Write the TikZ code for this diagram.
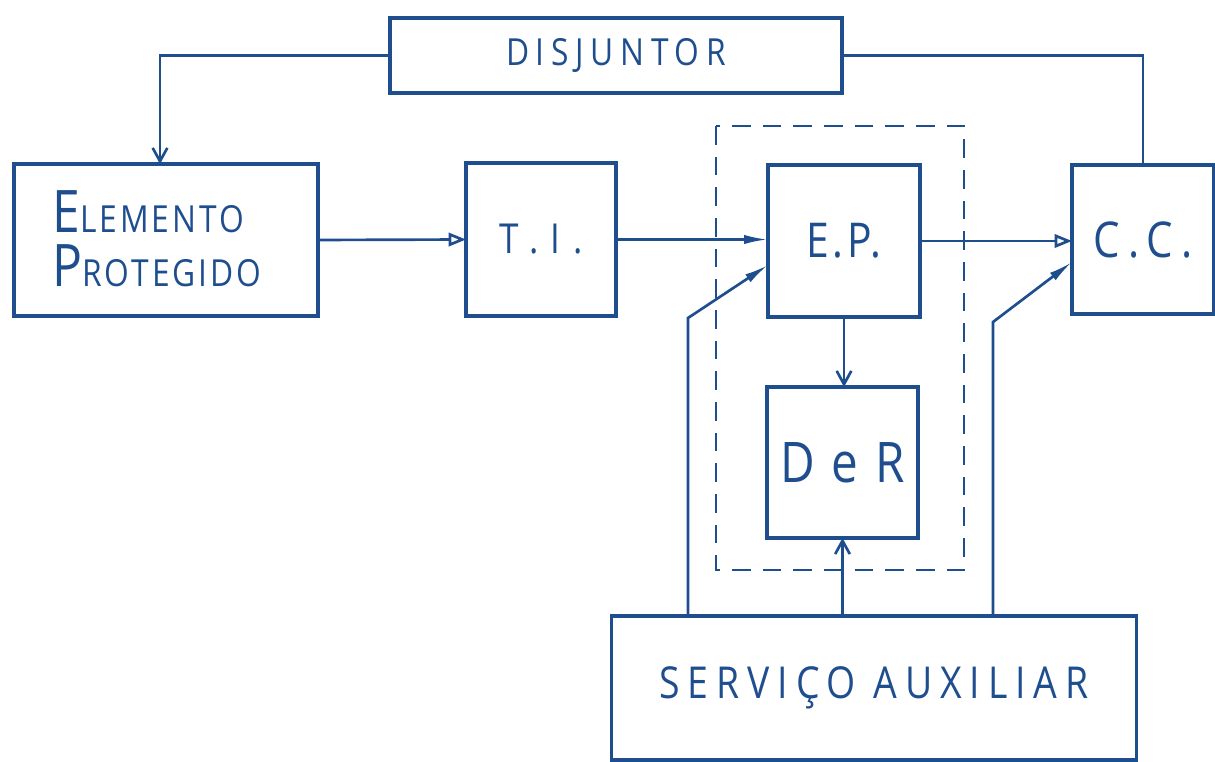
\documentclass[tikz,border=0pt]{standalone}
\usepackage{fontspec}
\usetikzlibrary{arrows.meta}
\newfontfamily\hand[LetterSpace=8,FakeStretch=0.85]{Open Sans}
\newfontfamily\handwide[LetterSpace=18,FakeStretch=0.85]{Open Sans}
\newfontfamily\handwider[LetterSpace=30,FakeStretch=0.85]{Open Sans}
\definecolor{ink}{HTML}{1F4E8F}
\tikzset{
  box/.style={draw=ink, line width=2.4pt, inner sep=0pt, outer sep=0pt, text=ink, font=\hand, align=left},
  conn/.style={draw=ink, line width=2pt},
  openarrow/.style={conn, -{Triangle[open, length=13pt, width=10pt, line width=2pt]}},
  fillarrow/.style={conn, -{Latex[length=18pt, width=7pt]}},
  veearrow/.style={conn, -{Straight Barb[length=10pt, width=11pt, line width=2pt]}},
  dashbox/.style={draw=ink, line width=2.2pt, dash pattern=on 14pt off 9pt}
}
\begin{document}
\begin{tikzpicture}[x=0.75pt,y=-0.75pt]
\useasboundingbox (0,0) rectangle (1215,762);
% boxes
\node[box, minimum width=339pt, minimum height=56.25pt, font=\handwide\fontsize{28}{28}\selectfont] (disj) at (616,55.5) {DISJUNTOR};
\node[box, minimum width=228pt, minimum height=114pt] (elem) at (166,240) {};
\node[text=ink, font=\hand, anchor=base west, inner sep=0pt] (elemtxt1) at (52,233)
  {{\fontsize{44}{44}\selectfont E}{\fontsize{28}{28}\selectfont LEMENTO}};
\node[text=ink, font=\hand, anchor=base west, inner sep=0pt] (elemtxt2) at (52,287)
  {{\fontsize{44}{44}\selectfont P}{\fontsize{28}{28}\selectfont ROTEGIDO}};
\node[box, minimum width=112.5pt, minimum height=114.75pt, font=\handwider\fontsize{31}{31}\selectfont] (ti) at (541,239.5) {T.I.};
\node[box, minimum width=114pt, minimum height=114pt, font=\hand\fontsize{36}{36}\selectfont] (ep) at (844,241) {E.P.};
\node[box, minimum width=113.25pt, minimum height=113.25pt, font=\hand\fontsize{42}{42}\selectfont] (der) at (842.5,462.5) {D e R};
\node[box, minimum width=106.5pt, minimum height=111.75pt, font=\handwide\fontsize{37}{37}\selectfont] (cc) at (1143,239.5) {C.C.};
\node[box, minimum width=393.75pt, minimum height=108pt, font=\handwide\fontsize{33}{33}\selectfont] (serv) at (874,688) {SERVIÇO AUXILIAR};
% dashed enclosure
\draw[dashbox] (716,126) rectangle (964,570);
% connectors
\draw[veearrow] (disj.west) -| ([xshift=-4.5pt]elem.north);
\draw[conn] (disj.east) -| (cc.north);
\draw[openarrow] (elem.east) -- (ti.west);
\draw[fillarrow] (ti.east) -- (ti.east -| ep.west);
\draw[openarrow] (ep.east) -- (ep.east -| cc.west);
\draw[veearrow] (ep.south) -- (ep.south |- der.north);
\draw[veearrow] (serv.north -| der.south) -- (der.south);
\coordinate (k1) at (688,318);
\coordinate (k2) at (993,322);
\draw[fillarrow] (serv.north -| k1) -- (k1) -- ([yshift=-18pt]ep.west);
\draw[fillarrow] (serv.north -| k2) -- (k2) -- ([yshift=-16.9pt]cc.west);
\end{tikzpicture}
\end{document}
